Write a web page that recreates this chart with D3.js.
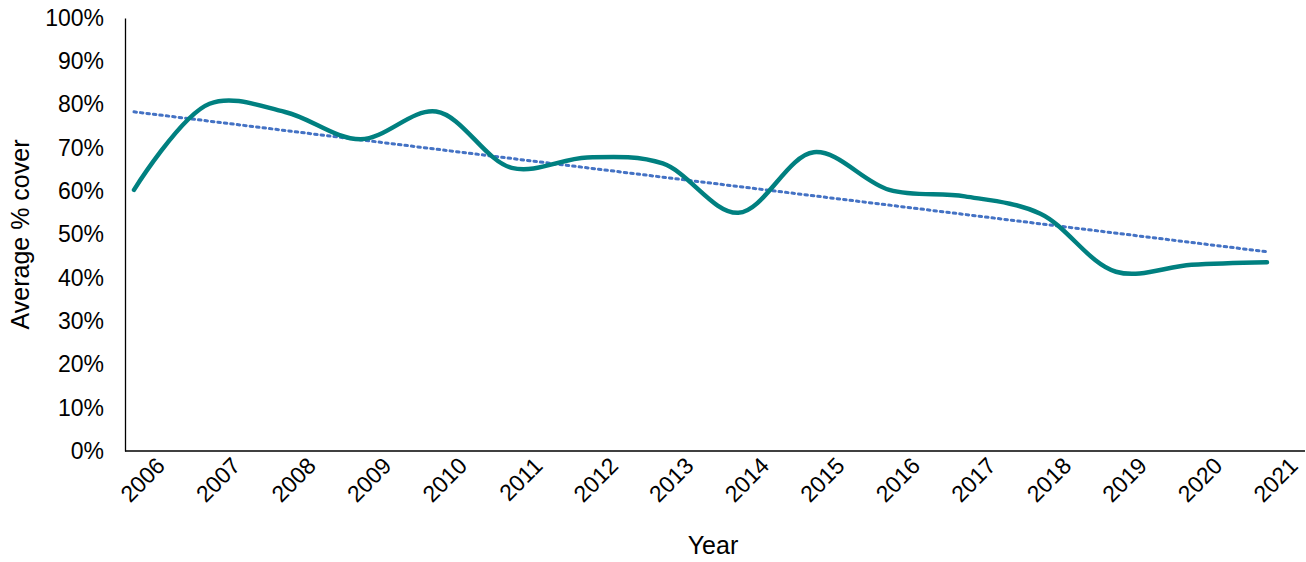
<!DOCTYPE html>
<html lang="en">
<head>
<meta charset="UTF-8">
<script src="https://d3js.org/d3.v7.min.js"></script>
<style>
  body { margin: 0; background: #fff; }
  text { font-family: "Liberation Sans", Arial, sans-serif; }
</style>
</head>
<body>
<div id="chart"></div>
<script>
  const years = [2006, 2007, 2008, 2009, 2010, 2011, 2012, 2013, 2014, 2015, 2016, 2017, 2018, 2019, 2020, 2021];
  const cover = [60.3, 80.2, 78.3, 72.0, 78.4, 65.4, 67.8, 66.4, 55.0, 69.0, 60.3, 58.8, 54.8, 41.4, 43.0, 43.6];
  const y_ticks = [0, 10, 20, 30, 40, 50, 60, 70, 80, 90, 100];

  const width = 1306, height = 562;
  const m_left = 125, m_right = 1305, m_top = 18, m_bottom = 451;

  const svg = d3.select("#chart").append("svg")
    .attr("width", width)
    .attr("height", height);

  const x = d3.scalePoint()
    .domain(years)
    .range([134, 1267]);
  const y = d3.scaleLinear()
    .domain([0, 100])
    .range([m_bottom, m_top]);

  // y axis
  const ya = svg.append("g")
    .attr("transform", "translate(" + m_left + ",0)")
    .call(d3.axisLeft(y).tickValues(y_ticks).tickSize(0).tickPadding(21).tickFormat(d => d + "%"));
  ya.select(".domain").attr("stroke", "#000").attr("stroke-width", 1.3);
  ya.selectAll("text").style("font-size", "23px").attr("fill", "#000").style("font-family", "Liberation Sans, Arial, sans-serif");

  // x axis
  const xa = svg.append("g")
    .attr("transform", "translate(0," + m_bottom + ")")
    .call(d3.axisBottom(x).tickSize(0).tickPadding(8).tickSizeOuter(0));
  xa.select(".domain").attr("stroke", "#000").attr("stroke-width", 1.3)
    .attr("d", "M" + m_left + ",0H" + m_right);
  xa.selectAll("text")
    .style("font-size", "23px").attr("fill", "#000")
    .style("font-family", "Liberation Sans, Arial, sans-serif")
    .attr("text-anchor", "end")
    .attr("x", 11).attr("y", 34).attr("dy", "0")
    .attr("transform", "rotate(-45)");

  // linear trend (least squares)
  const n = years.length;
  const mx = d3.mean(years), my = d3.mean(cover);
  const slope = d3.sum(years, (v, i) => (v - mx) * (cover[i] - my)) / d3.sum(years, v => (v - mx) * (v - mx));
  const icpt = my - slope * mx;
  svg.append("line")
    .attr("x1", x(years[0])).attr("y1", y(slope * years[0] + icpt))
    .attr("x2", x(years[n - 1])).attr("y2", y(slope * years[n - 1] + icpt))
    .attr("stroke", "#4472C4")
    .attr("stroke-width", 3)
    .attr("stroke-dasharray", "2.5,4")
    .attr("stroke-linecap", "round");

  // data line
  const line = d3.line()
    .x((d, i) => x(years[i]))
    .y(d => y(d))
    .curve(d3.curveCatmullRom.alpha(0.5));
  svg.append("path")
    .datum(cover)
    .attr("d", line)
    .attr("fill", "none")
    .attr("stroke", "#008080")
    .attr("stroke-width", 4.5)
    .attr("stroke-linecap", "round");

  // axis titles
  svg.append("text")
    .attr("x", 713).attr("y", 554)
    .attr("text-anchor", "middle")
    .style("font-size", "25px")
    .text("Year");
  svg.append("text")
    .attr("transform", "translate(29," + ((m_top + m_bottom) / 2) + ") rotate(-90)")
    .attr("text-anchor", "middle")
    .style("font-size", "25px")
    .text("Average % cover");
</script>
</body>
</html>
